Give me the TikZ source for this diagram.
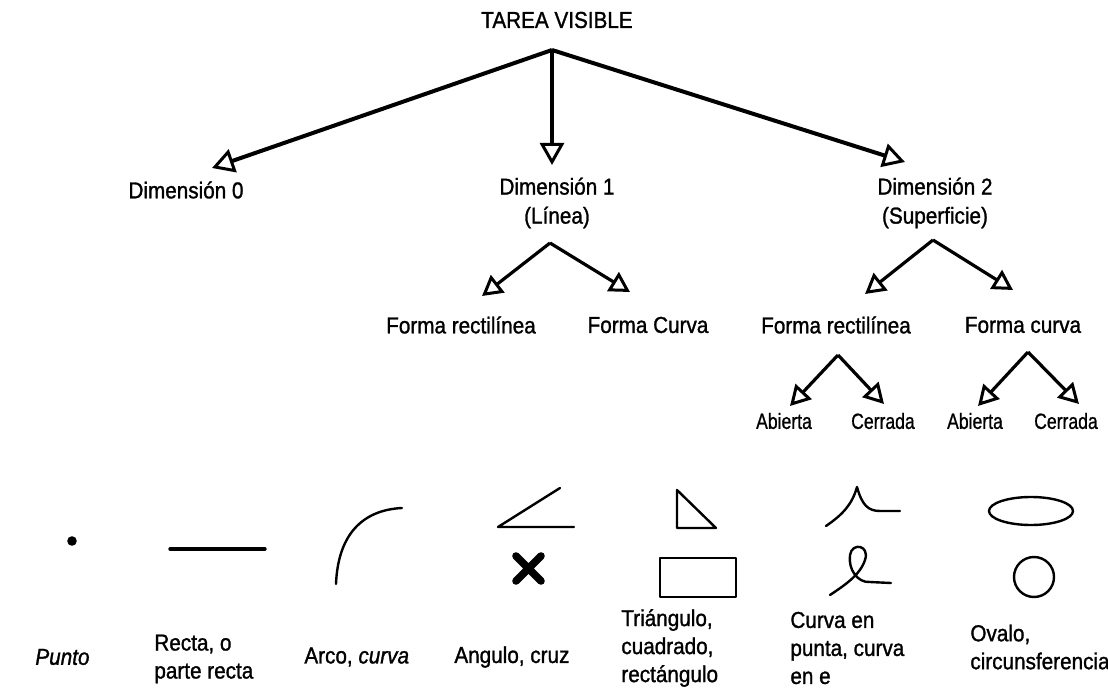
\documentclass[tikz,border=0pt]{standalone}
\usepackage{fontspec}
\setmainfont{Liberation Sans}[FakeStretch=0.9, FakeBold=1.2]
\newfontfamily\narrowfont{Liberation Sans}[FakeStretch=0.8, FakeBold=0.8]
\usetikzlibrary{arrows.meta}

\begin{document}
\begin{tikzpicture}[x=0.5pt, y=-0.5pt,
  lbl/.style={font=\fontsize{11.5}{14.5}\selectfont, inner sep=0pt, align=center},
  note/.style={font=\fontsize{11.5}{14}\selectfont, inner sep=0pt, align=left, anchor=west},
  small/.style={font=\narrowfont\fontsize{11}{13}\selectfont, inner sep=0pt},
  toparrow/.style={-{Triangle[open, length=11pt, width=12pt, line width=1.5pt]}, line width=2pt, line join=round},
  subarrow/.style={-{Triangle[open, length=10pt, width=11pt, line width=1.5pt]}, line width=1.6pt, line join=round},
  sketch/.style={line width=1.2pt, line cap=round, line join=round}]
\fill[white] (0,0) rectangle (1108,689);
\useasboundingbox (0,0) rectangle (1108,689);

% level 0 and 1
\node[lbl] (root) at (557,20) {TAREA VISIBLE};
\coordinate (rootfork) at (552,50);
\node[lbl] (dim0) at (186,190) {Dimensión 0};
\node[lbl] (dim1) at (557,203) {Dimensión 1\\(Línea)};
\node[lbl] (dim2) at (935,203) {Dimensión 2\\(Superficie)};
\coordinate (dim0tip) at (212,168);
\coordinate (dim1tip) at (552,165);
\coordinate (dim2tip) at (905,162);
\draw[toparrow] (rootfork) -- (dim0tip);
\draw[toparrow] (rootfork) -- (dim1tip);
\draw[toparrow] (rootfork) -- (dim2tip);

% level 2
\coordinate (linfork) at (550,243);
\coordinate (supfork) at (933,240);
\node[lbl] (linrect) at (461,325) {Forma rectilínea};
\node[lbl] (lincurv) at (648,325) {Forma Curva};
\node[lbl] (suprect) at (836,325) {Forma rectilínea};
\node[lbl] (supcurv) at (1023,325) {Forma curva};
\coordinate (linrecttip) at (482,296);
\coordinate (lincurvtip) at (630,292);
\coordinate (suprecttip) at (865,294);
\coordinate (supcurvtip) at (1013,290);
\draw[subarrow] (linfork) -- (linrecttip);
\draw[subarrow] (linfork) -- (lincurvtip);
\draw[subarrow] (supfork) -- (suprecttip);
\draw[subarrow] (supfork) -- (supcurvtip);

% level 3
\coordinate (rectfork) at (838,355);
\coordinate (curvfork) at (1028,352);
\node[small] (rectopen) at (784,421) {Abierta};
\node[small] (rectclosed) at (883,421) {Cerrada};
\node[small] (curvopen) at (975,421) {Abierta};
\node[small] (curvclosed) at (1066,421) {Cerrada};
\coordinate (rectopentip) at (790,406);
\coordinate (rectclosedtip) at (884,404);
\coordinate (curvopentip) at (978,406);
\coordinate (curvclosedtip) at (1079,404);
\draw[subarrow] (rectfork) -- (rectopentip);
\draw[subarrow] (rectfork) -- (rectclosedtip);
\draw[subarrow] (curvfork) -- (curvopentip);
\draw[subarrow] (curvfork) -- (curvclosedtip);

% sketches
\fill (72,541) circle (2.4pt);
\draw[sketch, line width=1.7pt] (170,549) -- (265,549);
\draw[sketch] (336,584) .. controls (338,535) and (362,510) .. (402,508);
\draw[sketch] (560,488) -- (498,527) -- (574,527);
\draw[line width=3.8pt, line cap=round] (516,556) -- (541,581) (516,581) -- (541,556);
\draw[sketch] (677,490) -- (677,528) -- (716,528) -- cycle;
\draw[sketch] (660,558) rectangle (736,597);
\draw[sketch] (826,526) .. controls (842,515) and (852,505) .. (857,487)
  .. controls (862,505) and (868,511) .. (880,511) -- (900,511);
\draw[sketch] (830,595) .. controls (845,585) and (860,575) .. (865,560)
  .. controls (870,545) and (852,542) .. (850,555)
  .. controls (848,570) and (858,583) .. (870,582) -- (891,583);
\draw[sketch] (1031,511) ellipse [x radius=21pt, y radius=7pt];
\draw[sketch] (1034,577) circle (10pt);

% captions
\node[note] (punto) at (35,657) {\itshape Punto};
\node[note] (recta) at (154,659) {Recta, o\\parte recta};
\node[note] (arco) at (304,657) {Arco, \itshape curva};
\node[note] (angulo) at (454,657) {Angulo, cruz};
\node[note] (poligono) at (621,648) {Triángulo,\\cuadrado,\\rectángulo};
\node[note] (cuspide) at (790,648) {Curva en\\punta, curva\\en e};
\node[note] (ovalo) at (970,647) {Ovalo,\\circunsferencia};
\end{tikzpicture}
\end{document}
